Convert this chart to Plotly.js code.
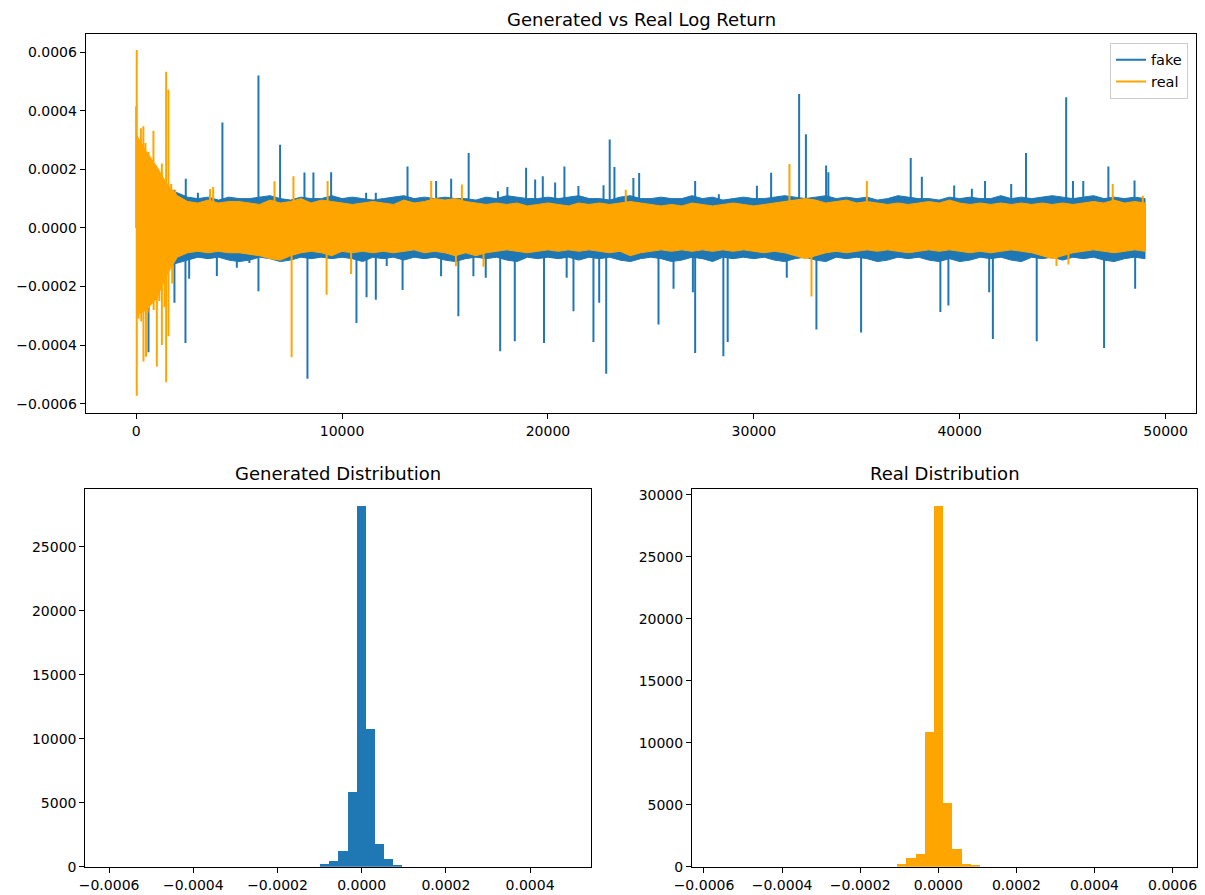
<!DOCTYPE html>
<html>
<head>
<meta charset="utf-8">
<script src="https://cdn.plot.ly/plotly-3.0.1.min.js"></script>
<style>html,body{margin:0;padding:0;background:#fff;}#chart{width:1205px;height:895px;}</style>
</head>
<body>
<div id="chart"></div>
<script>
const bandX = [0,500,1000,1500,2000,2500,3000,3500,4000,4500,5000,5500,6000,6500,7000,7500,8000,8500,9000,9500,
  10000,10500,11000,11500,12000,12500,13000,13500,14000,14500,15000,15500,16000,16500,17000,17500,18000,18500,19000,19500,
  20000,20500,21000,21500,22000,22500,23000,23500,24000,24500,25000,25500,26000,26500,27000,27500,28000,28500,29000,29500,
  30000,30500,31000,31500,32000,32500,33000,33500,34000,34500,35000,35500,36000,36500,37000,37500,38000,38500,39000,39500,
  40000,40500,41000,41500,42000,42500,43000,43500,44000,44500,45000,45500,46000,46500,47000,47500,48000,48500,49000];

const fakeUpper = [0.00020,0.00017,0.00015,0.00013,0.00012,0.000105,0.0001,0.000105,0.000095,0.000105,
 0.0001,0.0001,0.000105,0.00011,0.0001,0.000095,0.000105,0.0001,0.0001,0.00011,
 0.0001,0.000105,0.0001,0.000095,0.0001,0.000105,0.00011,0.0001,0.000105,0.0001,
 0.000105,0.0001,0.0001,0.000095,0.000105,0.0001,0.00011,0.000105,0.0001,0.0001,
 0.000105,0.0001,0.000105,0.00011,0.0001,0.0001,0.000095,0.000105,0.00011,0.0001,
 0.0001,0.000105,0.0001,0.0001,0.00011,0.0001,0.000105,0.000095,0.0001,0.000105,
 0.0001,0.0001,0.000105,0.00011,0.000105,0.0001,0.000105,0.00011,0.0001,0.000105,
 0.0001,0.000105,0.000095,0.0001,0.00011,0.000105,0.0001,0.0001,0.000095,0.000105,
 0.0001,0.000105,0.0001,0.0001,0.00011,0.0001,0.000105,0.0001,0.000105,0.00011,
 0.000105,0.0001,0.000105,0.00011,0.0001,0.000105,0.0001,0.000105,0.0001];
const fakeLower = [-0.00022,-0.0002,-0.00016,-0.00013,-0.00012,-0.00011,-0.0001,-0.000105,-0.0001,-0.00011,
 -0.000115,-0.00011,-0.0001,-0.000105,-0.000115,-0.00011,-0.0001,-0.000105,-0.0001,-0.000105,
 -0.0001,-0.000105,-0.000115,-0.0001,-0.000105,-0.0001,-0.00011,-0.0001,-0.000105,-0.0001,
 -0.00011,-0.000115,-0.000105,-0.0001,-0.000105,-0.0001,-0.00011,-0.000115,-0.0001,-0.000105,
 -0.0001,-0.000105,-0.0001,-0.00011,-0.0001,-0.000105,-0.0001,-0.00011,-0.000115,-0.000105,
 -0.0001,-0.000105,-0.000115,-0.00011,-0.0001,-0.000105,-0.000115,-0.0001,-0.000105,-0.0001,
 -0.000105,-0.0001,-0.00011,-0.000115,-0.000105,-0.0001,-0.00011,-0.000115,-0.0001,-0.000105,
 -0.0001,-0.000105,-0.000115,-0.00011,-0.0001,-0.000105,-0.0001,-0.00011,-0.000115,-0.000105,
 -0.000115,-0.00011,-0.0001,-0.000105,-0.0001,-0.00011,-0.000115,-0.0001,-0.000105,-0.0001,
 -0.00011,-0.0001,-0.000105,-0.0001,-0.00011,-0.000115,-0.000105,-0.0001,-0.000105];

const realUpper = [0.00032,0.00026,0.00021,0.00015,0.00011,0.00009,0.000085,0.000095,0.000085,0.00009,
 0.00009,0.000085,0.00008,0.000095,0.000085,0.00009,0.0001,0.000085,0.000095,0.00009,
 0.000085,0.00008,0.000085,0.00009,0.000085,0.00008,0.000095,0.000085,0.00009,0.0001,
 0.000095,0.0001,0.00009,0.000085,0.00008,0.000085,0.00008,0.000085,0.000075,0.00008,
 0.000085,0.00008,0.000075,0.000085,0.00008,0.000085,0.00008,0.000085,0.00009,0.000085,
 0.00008,0.000075,0.00008,0.000075,0.000085,0.00008,0.000075,0.00008,0.000085,0.00008,
 0.000075,0.00008,0.000085,0.00009,0.000095,0.0001,0.000095,0.000085,0.00009,0.000095,
 0.000085,0.00009,0.000085,0.00008,0.000085,0.00008,0.000085,0.00009,0.000085,0.000095,
 0.000085,0.00008,0.000085,0.00008,0.000085,0.00008,0.000085,0.00008,0.000085,0.00008,
 0.000085,0.00008,0.000085,0.00009,0.000085,0.000095,0.000085,0.00009,0.000085];
const realLower = [-0.00030,-0.00028,-0.00024,-0.00016,-0.0001,-0.000085,-0.00008,-0.000085,-0.00008,-0.000085,
 -0.000085,-0.00009,-0.000095,-0.000105,-0.00011,-0.000095,-0.000085,-0.00008,-0.000085,-0.000095,
 -0.00008,-0.000085,-0.00008,-0.000085,-0.00008,-0.000085,-0.00008,-0.000075,-0.000085,-0.00008,
 -0.000085,-0.000095,-0.000085,-0.000095,-0.000085,-0.00008,-0.000075,-0.00008,-0.000085,-0.00008,
 -0.000075,-0.00008,-0.000075,-0.00008,-0.000075,-0.00008,-0.000085,-0.00008,-0.000095,-0.000085,
 -0.00008,-0.000075,-0.00008,-0.000075,-0.00008,-0.000075,-0.00008,-0.000075,-0.00008,-0.000075,
 -0.00008,-0.000085,-0.00008,-0.000085,-0.000095,-0.000105,-0.000095,-0.000085,-0.00008,-0.000085,
 -0.00008,-0.000075,-0.00008,-0.000075,-0.00008,-0.000085,-0.00008,-0.000075,-0.00008,-0.000075,
 -0.00008,-0.000085,-0.00008,-0.000085,-0.00008,-0.000075,-0.00008,-0.000085,-0.000095,-0.000105,
 -0.000095,-0.000085,-0.00008,-0.000075,-0.00008,-0.000085,-0.00008,-0.000075,-0.00008];

// ---------- time series: individual spikes (index, value) ----------
const fakeSpikeX = [1850,2410,3000,4190,5940,6990,8175,8610,9470,11170,11640,13180,14570,15300,16150,17570,18030,18940,19380,19750,
  20350,20800,21480,22700,23000,23230,24150,24430,27150,28300,30150,30840,32200,32530,33510,33620,37620,38160,39730,40590,
  41230,42500,43220,45170,45500,46000,47220,48490,
  600,1860,2395,2575,3920,4890,5500,5940,8320,10700,11190,11640,12170,12940,14810,15650,16380,16980,17680,18390,
  19810,20910,21240,22210,22490,22830,25370,26100,27040,27150,28520,28730,31600,33040,35210,39060,39450,41430,41610,43740,
  47010,48520];
const fakeSpikeY = [0.00013,0.000168,0.00012,0.00036,0.00052,0.000284,0.000189,0.000189,0.00019,0.00012,0.00012,0.00021,0.00016,0.000168,0.000256,0.000125,0.00014,0.000205,0.000165,0.000176,
  0.000155,0.00021,0.000143,0.000146,0.000302,0.000208,0.00017,0.000187,0.00016,0.000115,0.000144,0.000188,0.000457,0.00032,0.000213,0.00019,0.000239,0.000175,0.000145,0.000134,
  0.00016,0.00015,0.000256,0.000446,0.00016,0.00016,0.00021,0.000162,
  -0.000425,-0.000256,-0.000393,-0.000174,-0.000164,-0.000136,-0.00012,-0.000216,-0.000515,-0.000325,-0.000237,-0.000245,-0.00013,-0.000212,-0.000165,-0.000302,-0.000165,-0.00017,-0.000421,-0.000387,
  -0.000393,-0.00017,-0.000285,-0.00039,-0.000256,-0.000498,-0.00033,-0.000208,-0.00022,-0.000427,-0.000438,-0.00039,-0.00017,-0.000347,-0.000357,-0.000287,-0.000265,-0.00022,-0.000379,-0.000387,
  -0.00041,-0.000208];

const realSpikeX = [0,30,120,230,350,450,600,700,840,950,1100,1250,1457,1570,1700,1900,3590,3740,6720,7640,9300,14330,15820,23780,31730,35490,47430,48890,
  30,120,250,355,480,560,700,850,1005,1120,1250,1380,1457,1570,1750,7550,9250,10440,15530,16870,32800,44700,45280];
const realSpikeY = [0.000415,0.000607,0.00029,0.00034,0.000347,0.00029,0.00026,0.00023,0.000332,0.00021,0.00019,0.00022,0.000533,0.000472,0.00015,0.00013,0.000133,0.00014,0.000159,0.000176,0.00016,0.00016,0.000148,0.00013,0.000218,0.00016,0.00015,0.00011,
  -0.000573,-0.00031,-0.00032,-0.000456,-0.00044,-0.00029,-0.00026,-0.00028,-0.000473,-0.00025,-0.0004,-0.00027,-0.000527,-0.00037,-0.00019,-0.000442,-0.000228,-0.000157,-0.000131,-0.000133,-0.000234,-0.00013,-0.000125];

// ---------- histograms (bin centres and counts) ----------
const genBinCenters = [-0.0000875,-0.0000659,-0.0000443,-0.0000227,-0.0000011,0.0000205,0.0000421,0.0000637,0.0000853];
const genCounts     = [211,469,1250,5812,28200,10734,1750,578,130];
const genBinWidth   = 0.0000216;
const realBinCenters = [-0.0000932,-0.0000697,-0.0000462,-0.0000227,0.0000008,0.0000243,0.0000478,0.0000713,0.0000948];
const realCounts     = [215,726,1022,10870,29110,5116,1453,215,110];
const realBinWidth   = 0.0000235;

// ---------- styling ----------
const BLUE = '#1f77b4', ORANGE = '#ffa500';
const FONT = 'DejaVu Sans, Liberation Sans, sans-serif';

function bandTrace(xs, up, lo, color) {
  return {
    type: 'scatter', mode: 'lines', xaxis: 'x', yaxis: 'y',
    x: xs.concat(xs.slice().reverse()),
    y: up.concat(lo.slice().reverse()),
    fill: 'toself', fillcolor: color,
    line: {color: color, width: 1},
    hoverinfo: 'skip', showlegend: false
  };
}
function spikeTrace(sx, sy, color, name) {
  const x = [], y = [];
  for (let i = 0; i < sx.length; i++) { x.push(sx[i], sx[i], null); y.push(0, sy[i], null); }
  return {type: 'scatter', mode: 'lines', xaxis: 'x', yaxis: 'y', x: x, y: y,
    line: {color: color, width: 2}, name: name, showlegend: true};
}

const traces = [
  bandTrace(bandX, fakeUpper, fakeLower, BLUE),
  spikeTrace(fakeSpikeX, fakeSpikeY, BLUE, 'fake'),
  bandTrace(bandX, realUpper, realLower, ORANGE),
  spikeTrace(realSpikeX, realSpikeY, ORANGE, 'real'),
  {type: 'bar', x: genBinCenters, y: genCounts, width: genBinWidth, xaxis: 'x2', yaxis: 'y2',
   marker: {color: BLUE, line: {width: 0}}, showlegend: false},
  {type: 'bar', x: realBinCenters, y: realCounts, width: realBinWidth, xaxis: 'x3', yaxis: 'y3',
   marker: {color: ORANGE, line: {width: 0}}, showlegend: false}
];

const axBase = {
  showgrid: false, zeroline: false, showline: true, mirror: true,
  linecolor: '#000', linewidth: 1, ticks: 'outside', ticklen: 5, tickwidth: 1, tickcolor: '#000',
  tickfont: {family: FONT, size: 14, color: '#000'}, fixedrange: true
};

const W = 1205, H = 895;
const px = v => v / W, py = v => 1 - v / H;

const layout = {
  width: W, height: H, margin: {l: 0, r: 0, t: 0, b: 0},
  paper_bgcolor: '#fff', plot_bgcolor: '#fff',
  font: {family: FONT, size: 14, color: '#000'},
  bargap: 0,
  xaxis: Object.assign({}, axBase, {domain: [px(85.7), px(1196.3)], anchor: 'y',
    range: [-2450, 51490], tickvals: [0,10000,20000,30000,40000,50000], tickformat: 'd'}),
  yaxis: Object.assign({}, axBase, {domain: [py(412.7), py(34.3)], anchor: 'x',
    range: [-0.000631, 0.000661], tickvals: [-0.0006,-0.0004,-0.0002,0,0.0002,0.0004,0.0006], tickformat: '.4f'}),
  xaxis2: Object.assign({}, axBase, {domain: [px(85.3), px(590.5)], anchor: 'y2',
    range: [-0.0006565, 0.0005435], tickvals: [-0.0006,-0.0004,-0.0002,0,0.0002,0.0004], tickformat: '.4f'}),
  yaxis2: Object.assign({}, axBase, {domain: [py(866.7), py(489)], anchor: 'x2',
    range: [0, 29508], tickvals: [0,5000,10000,15000,20000,25000], tickformat: 'd'}),
  xaxis3: Object.assign({}, axBase, {domain: [px(692), px(1197.4)], anchor: 'y3',
    range: [-0.0006307, 0.0006635], tickvals: [-0.0006,-0.0004,-0.0002,0,0.0002,0.0004,0.0006], tickformat: '.4f'}),
  yaxis3: Object.assign({}, axBase, {domain: [py(866.7), py(489)], anchor: 'x3',
    range: [0, 30480], tickvals: [0,5000,10000,15000,20000,25000,30000], tickformat: 'd'}),
  legend: {x: px(1188), y: py(42.7), xanchor: 'right', yanchor: 'top',
    bgcolor: 'rgba(255,255,255,0.8)', bordercolor: '#cccccc', borderwidth: 1,
    font: {family: FONT, size: 14.5, color: '#000'}},
  annotations: [
    {text: 'Generated vs Real Log Return', xref: 'paper', yref: 'paper', x: px(641), y: py(19),
     xanchor: 'center', yanchor: 'middle', showarrow: false, font: {family: FONT, size: 18, color: '#000'}},
    {text: 'Generated Distribution', xref: 'paper', yref: 'paper', x: px(337.9), y: py(473.5),
     xanchor: 'center', yanchor: 'middle', showarrow: false, font: {family: FONT, size: 18, color: '#000'}},
    {text: 'Real Distribution', xref: 'paper', yref: 'paper', x: px(944.7), y: py(473.5),
     xanchor: 'center', yanchor: 'middle', showarrow: false, font: {family: FONT, size: 18, color: '#000'}}
  ]
};

Plotly.newPlot('chart', traces, layout, {staticPlot: true, displayModeBar: false});
</script>
</body>
</html>
